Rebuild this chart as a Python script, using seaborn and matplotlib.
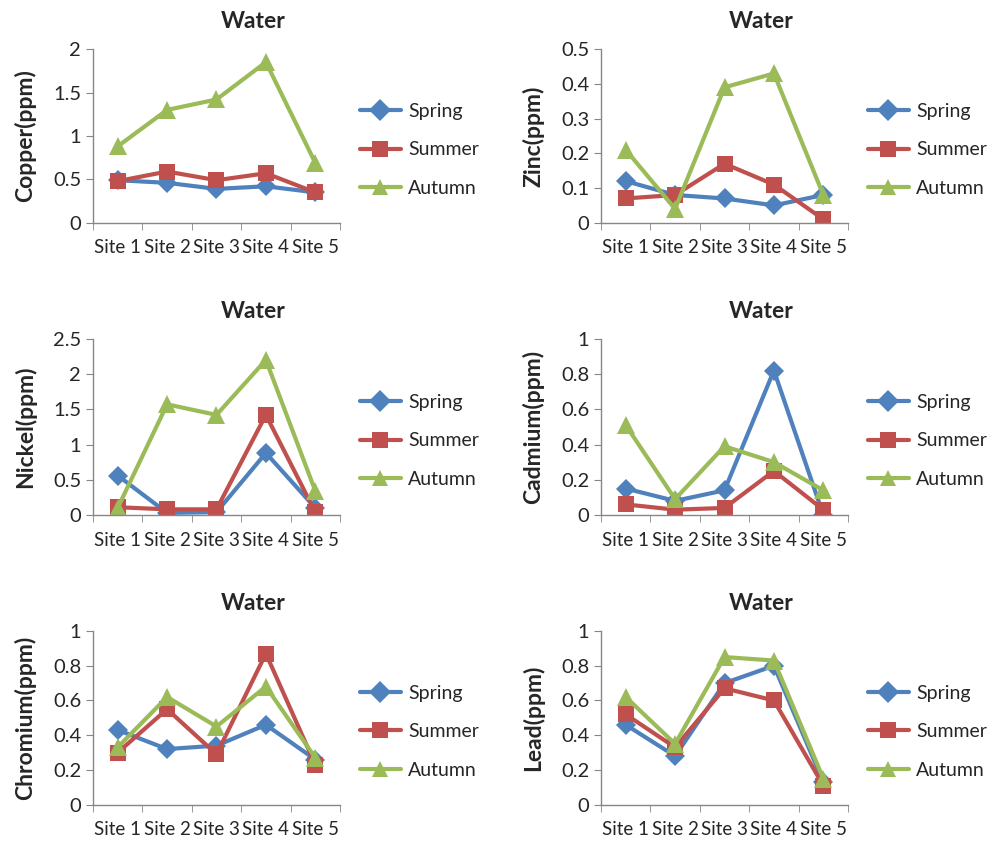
import numpy as np
import pandas as pd
import matplotlib.pyplot as plt
from matplotlib.ticker import FixedLocator
import seaborn as sns

sites = ["Site 1", "Site 2", "Site 3", "Site 4", "Site 5"]
seasons = ["Spring", "Summer", "Autumn"]

copper_spring = [0.49, 0.46, 0.39, 0.42, 0.35]
copper_summer = [0.48, 0.59, 0.49, 0.57, 0.35]
copper_autumn = [0.88, 1.30, 1.42, 1.85, 0.69]

zinc_spring = [0.12, 0.08, 0.07, 0.05, 0.08]
zinc_summer = [0.07, 0.08, 0.17, 0.11, 0.01]
zinc_autumn = [0.21, 0.04, 0.39, 0.43, 0.08]

nickel_spring = [0.56, 0.03, 0.04, 0.88, 0.10]
nickel_summer = [0.11, 0.08, 0.08, 1.42, 0.04]
nickel_autumn = [0.10, 1.57, 1.42, 2.20, 0.34]

cadmium_spring = [0.15, 0.08, 0.14, 0.82, 0.0]
cadmium_summer = [0.06, 0.03, 0.04, 0.25, 0.03]
cadmium_autumn = [0.51, 0.09, 0.39, 0.30, 0.14]

chromium_spring = [0.43, 0.32, 0.34, 0.46, 0.26]
chromium_summer = [0.30, 0.55, 0.29, 0.87, 0.23]
chromium_autumn = [0.33, 0.62, 0.45, 0.68, 0.27]

lead_spring = [0.46, 0.28, 0.70, 0.80, 0.13]
lead_summer = [0.52, 0.33, 0.67, 0.60, 0.11]
lead_autumn = [0.62, 0.35, 0.85, 0.83, 0.15]

# metal name, y max, y step, series
panels = [
    ("Copper", 2.0, 0.5, [copper_spring, copper_summer, copper_autumn]),
    ("Zinc", 0.5, 0.1, [zinc_spring, zinc_summer, zinc_autumn]),
    ("Nickel", 2.5, 0.5, [nickel_spring, nickel_summer, nickel_autumn]),
    ("Cadmium", 1.0, 0.2, [cadmium_spring, cadmium_summer, cadmium_autumn]),
    ("Chromium", 1.0, 0.2, [chromium_spring, chromium_summer, chromium_autumn]),
    ("Lead", 1.0, 0.2, [lead_spring, lead_summer, lead_autumn]),
]

palette = {"Spring": "#4F81BD", "Summer": "#C0504D", "Autumn": "#9BBB59"}
markers = {"Spring": "D", "Summer": "s", "Autumn": "^"}
msizes = {"Spring": 10, "Summer": 11.5, "Autumn": 13}

sns.set_style("white")
plt.rcParams["font.family"] = ["Lato", "DejaVu Sans"]

fig = plt.figure(figsize=(10, 8.47), dpi=100)

lefts = [0.093, 0.601]
bottoms = [0.737, 0.392, 0.050]
heights = [0.205, 0.208, 0.205]

for i, (metal, ymax, step, series) in enumerate(panels):
    r, c = divmod(i, 2)
    ax = fig.add_axes([lefts[c], bottoms[r], 0.247, heights[r]])
    rows = []
    for season, vals in zip(seasons, series):
        for s, v in zip(sites, vals):
            rows.append({"site": s, "season": season, "value": v})
    df = pd.DataFrame(rows)
    sns.lineplot(data=df, x="site", y="value", hue="season", style="season",
                 hue_order=seasons, style_order=seasons, palette=palette,
                 markers=markers, dashes=False, linewidth=3, markersize=10,
                 markeredgewidth=0, ax=ax, sort=False)
    for line, season in zip(ax.lines, seasons):
        line.set_markersize(msizes[season])

    ax.set_xlim(-0.5, 4.5)
    ax.set_ylim(0, ymax)
    yt = np.arange(0, ymax + step / 2, step)
    ax.set_yticks(yt)
    ax.set_yticklabels([f"{t:g}" for t in yt])
    ax.xaxis.set_minor_locator(FixedLocator(np.arange(-0.5, 5.0, 1.0)))
    ax.tick_params(axis="x", which="major", length=0, labelsize=13.5, pad=12)
    ax.tick_params(axis="x", which="minor", length=5, color="#868686", direction="out", bottom=True)
    ax.tick_params(axis="y", length=5, color="#868686", direction="out", labelsize=14.5, left=True)
    for side in ["top", "right"]:
        ax.spines[side].set_visible(False)
    for side in ["left", "bottom"]:
        ax.spines[side].set_color("#868686")
        ax.spines[side].set_linewidth(1)
    ax.set_xlabel("")
    ax.set_ylabel(f"{metal}(ppm)", fontsize=16.5, fontweight="bold", labelpad=12)
    # title is centred over the whole chart area (plot + legend)
    ax.set_title("Water", fontsize=16.5, fontweight="bold", pad=15, x=0.65)
    leg = ax.legend(loc="center left", bbox_to_anchor=(1.08, 0.42), frameon=False,
                    fontsize=14, handlelength=2.1, handletextpad=0.4,
                    labelspacing=1.1, borderaxespad=0, borderpad=0)
    for h in leg.legend_handles:
        h.set_markersize(11)

fig.savefig("out.png", dpi=100)
